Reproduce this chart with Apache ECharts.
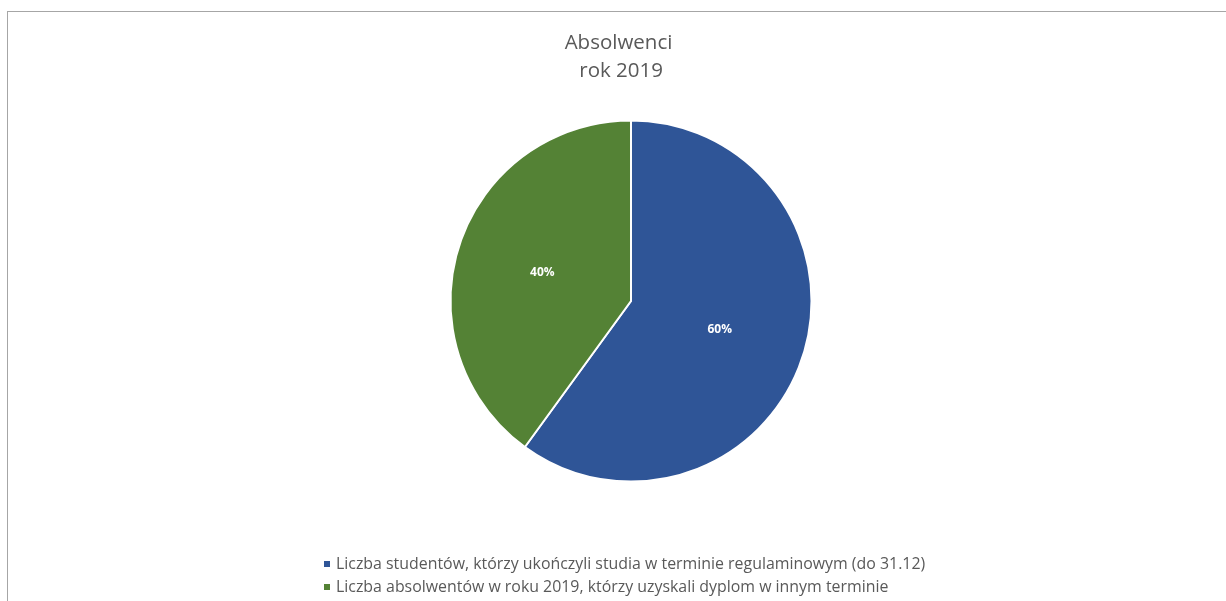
<!DOCTYPE html>
<html><head><meta charset="utf-8">
<script src="https://cdn.jsdelivr.net/npm/echarts@6/dist/echarts.min.js"></script>
<style>
html,body{margin:0;padding:0;background:#fff;overflow:hidden;}
#frame{position:absolute;left:7px;top:11px;width:1300px;height:700px;border:1px solid #a6a6a6;box-sizing:border-box;}
#chart{position:absolute;left:0;top:0;width:1226px;height:601px;}
</style></head>
<body>
<div id="frame"></div>
<div id="chart"></div>
<script>
const titleLines = ["Absolwenci", " rok 2019"];
const categories = [
  "Liczba studentów, którzy ukończyli studia w terminie regulaminowym (do 31.12)",
  "Liczba absolwentów w roku 2019, którzy uzyskali dyplom w innym terminie"
];
const values = [60, 40];
const colors = ["#2f5597", "#548235"];

const legendText = {fontFamily: 'Open Sans', fontSize: 15.9, color: '#595959'};
const chart = echarts.init(document.getElementById('chart'), null, {renderer: 'canvas'});
chart.setOption({
  animation: false,
  title: {
    text: titleLines.join("\n"),
    left: 613.5,
    textAlign: 'center',
    top: 24,
    textStyle: {fontFamily: 'Open Sans', fontSize: 20.5, fontWeight: 'normal', color: '#595959', lineHeight: 28}
  },
  legend: categories.map((c, i) => ({
    orient: 'horizontal',
    left: 322,
    top: 556 + i * 23,
    padding: 0,
    itemWidth: 8,
    itemHeight: 8,
    icon: 'rect',
    textStyle: legendText,
    data: [c]
  })),
  series: [{
    type: 'pie',
    center: [631, 301],
    radius: [0, 180.5],
    startAngle: 90,
    clockwise: true,
    color: colors,
    itemStyle: {borderColor: '#fff', borderWidth: 2},
    label: {
      position: 'inside',
      formatter: function(p){ return Math.round(p.percent) + '%'; },
      color: '#fff', fontWeight: 'bold', fontSize: 12, fontFamily: 'Open Sans'
    },
    labelLine: {show: false},
    emphasis: {disabled: true},
    data: categories.map((c, i) => ({name: c, value: values[i]}))
  }]
});
</script>
</body></html>
